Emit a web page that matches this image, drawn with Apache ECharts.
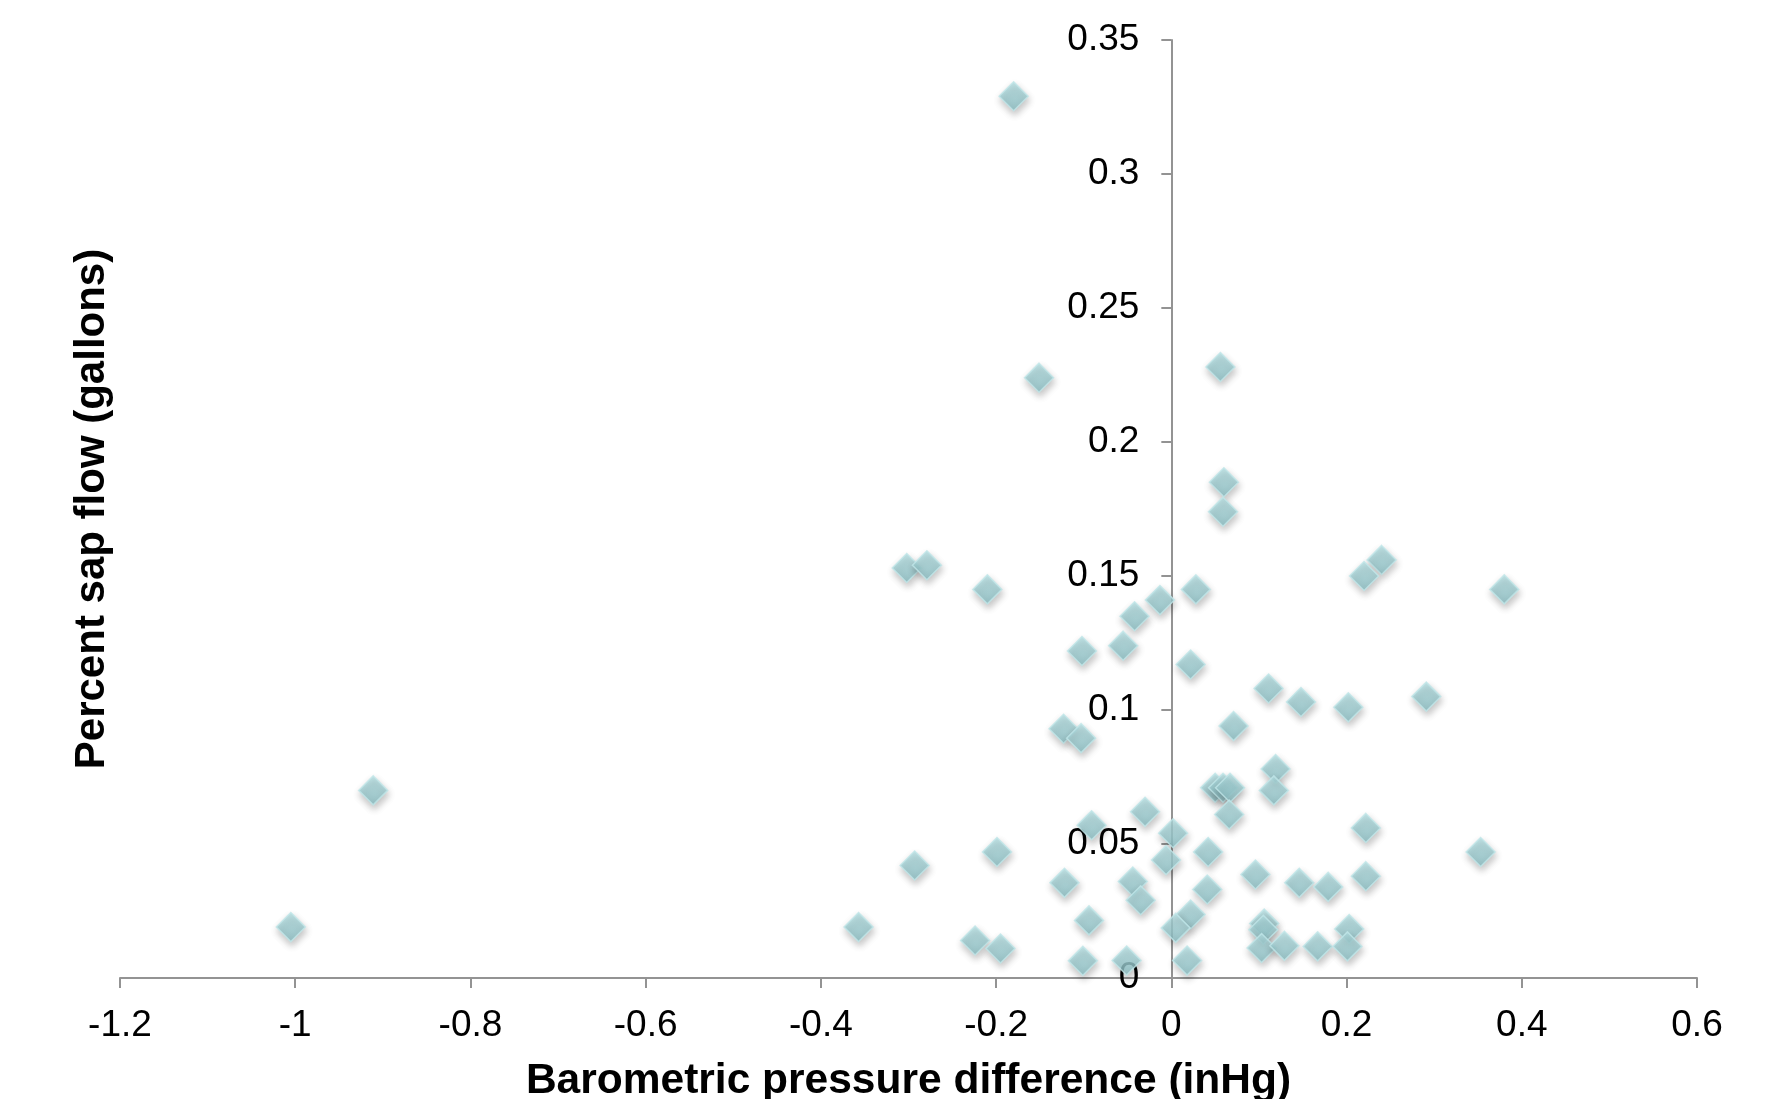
<!DOCTYPE html>
<html>
<head>
<meta charset="utf-8">
<script src="https://cdn.jsdelivr.net/npm/echarts@6/dist/echarts.min.js"></script>
<style>
  html, body { margin: 0; padding: 0; background: #ffffff; }
  #root { width: 1790px; height: 1099px; }
</style>
</head>
<body>
<div id="root"></div>
<script>
// Barometric pressure difference (inHg)
var pressureDiff = [
  -0.180, -0.151, 0.056, 0.060, -0.302, -0.279, -0.210, -0.911, -0.199, -0.293,
  -1.005, -0.357, -0.224, -0.195,
  0.059, 0.240, 0.220, 0.380, 0.028, -0.013, -0.042, -0.055, -0.102, 0.022,
  0.111, 0.148, 0.202, 0.291, 0.071, -0.123, -0.103, 0.119, 0.117,
  0.050, 0.059, 0.067, 0.066, -0.030, -0.091, 0.002, 0.222, 0.042, -0.006,
  0.353, -0.122, -0.044, -0.035, 0.041, 0.096, 0.146, 0.179, 0.222,
  -0.094, 0.022, 0.005, 0.106, 0.105, 0.203, 0.103, 0.129, 0.167, 0.201,
  -0.101, -0.051, 0.018
];

// Percent sap flow (gallons), same order
var sapFlow = [
  0.329, 0.224, 0.228, 0.185, 0.153, 0.154, 0.145, 0.070, 0.047, 0.042,
  0.019, 0.019, 0.014, 0.011,
  0.174, 0.156, 0.150, 0.145, 0.145, 0.141, 0.135, 0.124, 0.122, 0.117,
  0.108, 0.103, 0.101, 0.105, 0.094, 0.093, 0.0895, 0.078, 0.070,
  0.071, 0.071, 0.071, 0.061, 0.062, 0.057, 0.054, 0.056, 0.047, 0.044,
  0.047, 0.0355, 0.036, 0.029, 0.033, 0.0386, 0.0355, 0.034, 0.038,
  0.0215, 0.0237, 0.0187, 0.0203, 0.018, 0.0183, 0.0112, 0.012, 0.0118, 0.0118,
  0.0064, 0.0065, 0.0065
];

var xTitle = 'Barometric pressure difference (inHg)';
var yTitle = 'Percent sap flow (gallons)';

var points = pressureDiff.map(function (x, i) { return [x, sapFlow[i]]; });

var font = 'Arial, "Liberation Sans", sans-serif';
var axisGrey = '#939393';

// grid geometry
var gridLeft = 120, gridRight = 93;
var xMin = -1.2, xMax = 0.6;
var plotWidth = 1790 - gridLeft - gridRight;
// shift the value axis from the grid's left edge to x = 0
var yAxisShift = plotWidth * (0 - xMin) / (xMax - xMin);

var chart = echarts.init(document.getElementById('root'), null, { renderer: 'canvas' });

var option = {
  backgroundColor: '#ffffff',
  animation: false,
  grid: { left: gridLeft, right: gridRight, top: 40, bottom: 121, outerBoundsMode: 'none' },
  xAxis: {
    type: 'value',
    min: xMin,
    max: xMax,
    interval: 0.2,
    splitLine: { show: false },
    axisLine: { lineStyle: { color: axisGrey, width: 2 } },
    axisTick: { length: 10, lineStyle: { color: axisGrey, width: 2 } },
    axisLabel: {
      margin: 29,
      color: '#000',
      fontSize: 37,
      fontFamily: font,
      showMinLabel: true,
      showMaxLabel: true,
      formatter: function (v) { return String(+v.toFixed(1)); }
    },
    name: xTitle,
    nameLocation: 'middle',
    nameGap: 82,
    nameTextStyle: { color: '#000', fontSize: 42.5, fontWeight: 'bold', fontFamily: font }
  },
  yAxis: {
    type: 'value',
    position: 'left',
    offset: -yAxisShift,
    min: 0,
    max: 0.35,
    interval: 0.05,
    splitLine: { show: false },
    axisLine: { onZero: false, lineStyle: { color: axisGrey, width: 2 } },
    axisTick: { length: 10, lineStyle: { color: axisGrey, width: 2 } },
    axisLabel: {
      margin: 32,
      color: '#000',
      fontSize: 37,
      fontFamily: font,
      formatter: function (v) { return String(+v.toFixed(2)); }
    },
    name: yTitle,
    nameLocation: 'middle',
    nameRotate: 90,
    nameGap: 1058,
    nameTextStyle: { color: '#000', fontSize: 42, fontWeight: 'bold', fontFamily: font }
  },
  series: [
    {
      type: 'scatter',
      data: points,
      symbol: 'diamond',
      symbolSize: 29,
      itemStyle: {
        color: new echarts.graphic.LinearGradient(0, 0, 0, 1, [
          { offset: 0, color: '#b6e1e4' },
          { offset: 1, color: '#8abfc4' }
        ]),
        borderColor: '#c0e6e8',
        borderWidth: 1.5,
        shadowBlur: 7,
        shadowOffsetX: 1,
        shadowOffsetY: 4,
        shadowColor: 'rgba(0, 0, 0, 0.28)'
      }
    }
  ]
};

chart.setOption(option);
</script>
</body>
</html>
